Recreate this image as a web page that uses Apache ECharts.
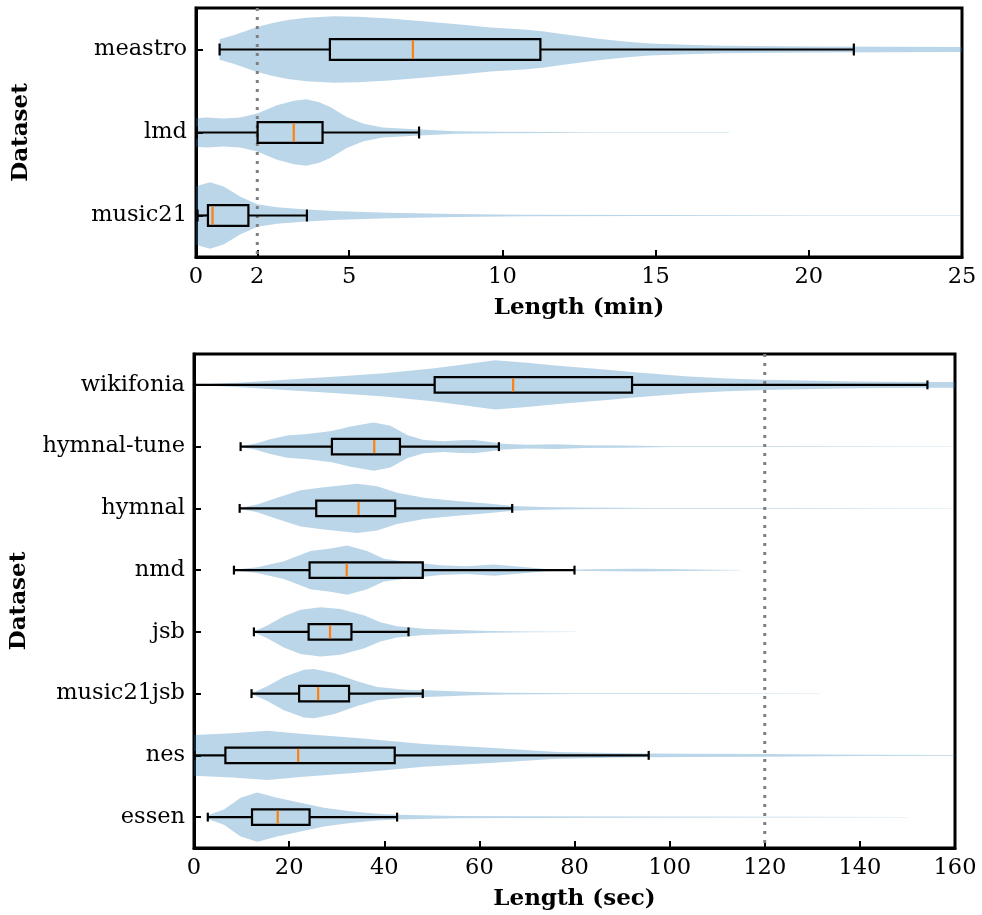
<!DOCTYPE html>
<html><head><meta charset="utf-8">
<script src="https://cdn.jsdelivr.net/npm/echarts@6/dist/echarts.min.js"></script>
<style>html,body{margin:0;padding:0;background:#fff}#c{width:982px;height:915px}</style>
</head><body><div id="c"></div>
<script>
// ---------- Top panel (minutes) ----------
const categoriesMin = ['meastro', 'lmd', 'music21'];
const ticksMin = [0, 2, 5, 10, 15, 20, 25];
// [whiskerLow, Q1, median, Q3, whiskerHigh]
const boxMeastro = [0.77, 4.37, 7.08, 11.24, 21.47];
const boxLmd = [0.03, 2.01, 3.19, 4.13, 7.28];
const boxMusic21 = [0.05, 0.39, 0.54, 1.71, 3.62];
// violin profiles: [value, relative half-width]
const violinMeastro = [[0.77,0.31],[1.2,0.42],[1.6,0.55],[2.0,0.68],[2.5,0.8],[3.0,0.89],[3.6,0.96],[4.5,1.0],[5.3,0.99],[6.3,0.93],[7.4,0.85],[8.8,0.74],[9.6,0.66],[10.7,0.6],[11.3,0.55],[12.0,0.46],[13.2,0.32],[14.0,0.24],[14.8,0.18],[16.0,0.14],[17.2,0.11],[20.0,0.09],[22.5,0.08],[26,0.07]];
const violinLmd = [[0,0.43],[0.35,0.45],[0.9,0.42],[1.44,0.45],[2.0,0.57],[2.64,0.82],[3.2,0.96],[3.6,1.0],[4.0,0.92],[4.38,0.77],[4.92,0.47],[5.47,0.26],[6.1,0.15],[7.3,0.09],[8.5,0.04],[10,0.02],[13,0.01],[17.4,0.005]];
const violinMusic21 = [[0,0.88],[0.46,1.0],[0.9,0.87],[1.44,0.57],[2.0,0.34],[2.64,0.25],[3.6,0.18],[4.7,0.13],[6.3,0.08],[8.5,0.045],[10.7,0.025],[15,0.013],[20,0.008],[25,0.005]];
const refMin = [2];

// ---------- Bottom panel (seconds) ----------
const categoriesSec = ['wikifonia', 'hymnal-tune', 'hymnal', 'nmd', 'jsb', 'music21jsb', 'nes', 'essen'];
const ticksSec = [0, 20, 40, 60, 80, 100, 120, 140, 160];
const boxWikifonia = [0.2, 50.6, 67.1, 92.1, 154.2];
const boxHymnalTune = [9.8, 29.0, 37.9, 43.3, 64.1];
const boxHymnal = [9.6, 25.7, 34.6, 42.3, 66.9];
const boxNmd = [8.4, 24.3, 32.1, 48.1, 80.0];
const boxJsb = [12.6, 24.1, 28.6, 33.1, 45.1];
const boxMusic21jsb = [12.1, 22.1, 26.1, 32.6, 48.1];
const boxNes = [0.1, 6.6, 21.9, 42.2, 95.6];
const boxEssen = [2.9, 12.2, 17.6, 24.3, 42.7];
const violinWikifonia = [[0,0.01],[10,0.1],[20,0.22],[30,0.34],[40,0.47],[50.6,0.67],[57,0.84],[63.3,1.0],[70,0.9],[76,0.78],[87.5,0.6],[92,0.52],[104,0.34],[112,0.26],[120,0.21],[139,0.14],[154,0.12],[165,0.11]];
const violinHymnalTune = [[9.8,0.02],[13,0.13],[16,0.3],[19.6,0.45],[23.8,0.51],[29,0.63],[32.9,0.81],[37.8,0.98],[41.3,0.85],[44.8,0.47],[48.3,0.27],[52.5,0.22],[56,0.26],[58.8,0.27],[62,0.2],[65,0.12],[70,0.08],[76,0.1],[82,0.06],[90,0.05],[100,0.02],[120,0.012],[160,0.008]];
const violinHymnal = [[9.6,0.02],[13.3,0.16],[17.5,0.43],[22.4,0.73],[27.3,0.86],[34.3,1.0],[38.5,0.9],[42.7,0.63],[48.3,0.43],[55.3,0.3],[62.3,0.19],[67,0.1],[73,0.06],[80,0.035],[95,0.02],[120,0.012],[160,0.008]];
const violinNmd = [[8.4,0.02],[13.3,0.12],[18.9,0.36],[24.5,0.77],[28.7,0.88],[32.2,1.0],[36.4,0.77],[39.9,0.46],[44.8,0.34],[51.8,0.2],[57.4,0.16],[63,0.23],[69.3,0.13],[74,0.05],[80,0.03],[88,0.05],[94,0.06],[102,0.04],[115,0.01]];
const violinJsb = [[12.6,0.02],[15.4,0.26],[18.9,0.63],[22.4,0.9],[26.6,1.0],[30.8,0.93],[35.7,0.67],[39.2,0.39],[42.7,0.23],[48.3,0.13],[55.3,0.08],[62.3,0.04],[70,0.02],[80.2,0.01]];
const violinMusic21jsb = [[12.1,0.02],[15.4,0.3],[18.9,0.67],[23.1,0.97],[25.2,1.0],[29.4,0.84],[34.3,0.5],[38.5,0.27],[44.8,0.16],[51.8,0.12],[58.8,0.07],[65.8,0.035],[80,0.02],[100,0.012],[131.7,0.006]];
const violinNes = [[0,0.82],[8,0.9],[15.4,1.0],[22.4,0.88],[34.3,0.7],[41.3,0.58],[48.3,0.46],[62.3,0.31],[76.3,0.14],[87.5,0.1],[95.6,0.08],[104,0.07],[120,0.055],[139,0.03],[160,0.02],[165,0.02]];
const violinEssen = [[2.9,0.08],[6.3,0.31],[9.8,0.78],[13.3,1.0],[17.5,0.78],[22.4,0.58],[27.3,0.38],[32.9,0.24],[38.5,0.14],[42.7,0.1],[55.3,0.05],[69.3,0.04],[90,0.025],[120,0.012],[150,0.005]];
const refSec = [120];

const boxesMin = [boxMeastro, boxLmd, boxMusic21];
const violinsMin = [violinMeastro, violinLmd, violinMusic21];
const boxesSec = [boxWikifonia, boxHymnalTune, boxHymnal, boxNmd, boxJsb, boxMusic21jsb, boxNes, boxEssen];
const violinsSec = [violinWikifonia, violinHymnalTune, violinHymnal, violinNmd, violinJsb, violinMusic21jsb, violinNes, violinEssen];

const FONT = 'DejaVu Serif';
const FS = 22.5;
const FST = 23;

function violinSeries(g, profiles) {
  return {
    type: 'custom', xAxisIndex: g, yAxisIndex: g, clip: true, z: 2,
    data: profiles.map((p, i) => [0, i]),
    encode: { x: 0, y: 1 },
    renderItem(params, api) {
      const prof = profiles[params.dataIndex];
      const cat = api.value(1);
      const hw = 0.4 * api.size([0, 1])[1];
      const up = [], lo = [];
      prof.forEach(([v, w]) => {
        const p = api.coord([v, cat]);
        up.push([p[0], p[1] - w * hw]);
        lo.push([p[0], p[1] + w * hw]);
      });
      return { type: 'polygon', shape: { points: up.concat(lo.reverse()) },
        style: { fill: 'rgba(31,119,180,0.3)', stroke: null } };
    }
  };
}

function boxSeries(g, boxes) {
  return {
    type: 'custom', xAxisIndex: g, yAxisIndex: g, clip: true, z: 5,
    data: boxes.map((b, i) => [b[0], b[1], b[2], b[3], b[4], i]),
    encode: { x: [0, 4], y: 5 },
    renderItem(params, api) {
      const cat = api.value(5);
      const band = api.size([0, 1])[1];
      const bh = 0.125 * band, ch = 0.072 * band;
      const px = [0,1,2,3,4].map(k => api.coord([api.value(k), cat])[0]);
      const y = api.coord([0, cat])[1];
      const ls = { stroke: '#000', lineWidth: 2.2 };
      return { type: 'group', children: [
        { type: 'line', shape: { x1: px[0], y1: y, x2: px[1], y2: y }, style: ls },
        { type: 'line', shape: { x1: px[3], y1: y, x2: px[4], y2: y }, style: ls },
        { type: 'line', shape: { x1: px[0], y1: y - ch, x2: px[0], y2: y + ch }, style: ls },
        { type: 'line', shape: { x1: px[4], y1: y - ch, x2: px[4], y2: y + ch }, style: ls },
        { type: 'rect', shape: { x: px[1], y: y - bh, width: px[3] - px[1], height: 2 * bh },
          style: { fill: 'none', stroke: '#000', lineWidth: 2.2 } },
        { type: 'line', shape: { x1: px[2], y1: y - bh + 1.2, x2: px[2], y2: y + bh - 1.2 },
          style: { stroke: '#ff7f0e', lineWidth: 2.2 } }
      ]};
    }
  };
}

function refSeries(g, refs) {
  return {
    type: 'custom', xAxisIndex: g, yAxisIndex: g, clip: true, z: 4,
    data: refs.map(r => [r, 0]),
    encode: { x: 0, y: 1 },
    renderItem(params, api) {
      const cs = params.coordSys;
      const x = api.coord([api.value(0), 0])[0];
      return { type: 'line', shape: { x1: x, y1: cs.y, x2: x, y2: cs.y + cs.height },
        style: { stroke: '#808080', lineWidth: 3, lineDash: [3, 6] } };
    }
  };
}

function xAxis(g, min, max, ticks, name) {
  return {
    gridIndex: g, type: 'value', min, max,
    name, nameLocation: 'middle', nameGap: 40,
    nameTextStyle: { fontFamily: FONT, fontWeight: 'bold', fontSize: FST, color: '#000' },
    axisLine: { show: true, onZero: false, lineStyle: { color: '#000', width: 3 } },
    axisTick: { show: true, inside: true, length: 7, lineStyle: { color: '#000', width: 2 }, customValues: ticks },
    axisLabel: { fontFamily: FONT, fontSize: FS, color: '#000', margin: 9, customValues: ticks },
    splitLine: { show: false }
  };
}
function yAxis(g, cats) {
  return {
    gridIndex: g, type: 'category', data: cats, inverse: true,
    name: 'Dataset', nameLocation: 'middle', nameRotate: 90, nameGap: 163,
    nameTextStyle: { fontFamily: FONT, fontWeight: 'bold', fontSize: FST, color: '#000' },
    axisLine: { show: true, onZero: false, lineStyle: { color: '#000', width: 3 } },
    axisTick: { show: true, inside: true, alignWithLabel: true, interval: 0, length: 7, lineStyle: { color: '#000', width: 2 } },
    axisLabel: { fontFamily: FONT, fontSize: FS, color: '#000', margin: 9, interval: 0 },
    splitLine: { show: false }
  };
}

const chart = echarts.init(document.getElementById('c'), null, { renderer: 'canvas' });
chart.setOption({
  animation: false,
  backgroundColor: '#fff',
  grid: [
    { left: 196, top: 8, width: 766, height: 249, show: true, borderColor: '#000', borderWidth: 3, backgroundColor: 'transparent', containLabel: false, outerBoundsMode: 'none' },
    { left: 194, top: 354, width: 761, height: 494, show: true, borderColor: '#000', borderWidth: 3, backgroundColor: 'transparent', containLabel: false, outerBoundsMode: 'none' }
  ],
  xAxis: [xAxis(0, 0, 25, ticksMin, 'Length (min)'), xAxis(1, 0, 160, ticksSec, 'Length (sec)')],
  yAxis: [yAxis(0, categoriesMin), yAxis(1, categoriesSec)],
  series: [
    violinSeries(0, violinsMin), refSeries(0, refMin), boxSeries(0, boxesMin),
    violinSeries(1, violinsSec), refSeries(1, refSec), boxSeries(1, boxesSec)
  ]
});
</script></body></html>
